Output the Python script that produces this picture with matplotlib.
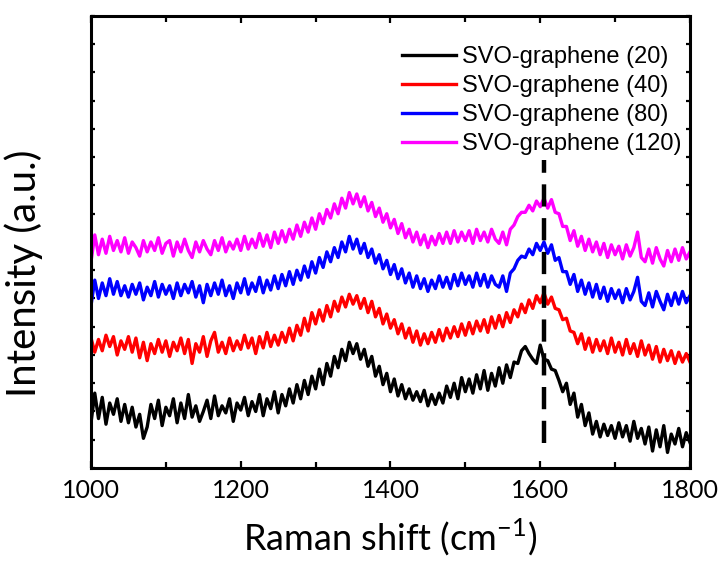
import matplotlib
matplotlib.use("Agg")
import matplotlib.pyplot as plt
import numpy as np
from matplotlib.ticker import MultipleLocator

# Raman spectra, offsets (arb. units, y axis 0..16)
shift_start, shift_end = 1000, 1800

svo_20 = [
    1.60, 2.65, 1.75, 2.50, 1.55, 2.30, 1.90, 2.45, 1.65, 2.25, 1.60, 2.15, 1.45, 1.90, 1.05, 1.45,
    2.25, 1.75, 2.40, 1.50, 2.15, 1.85, 2.45, 1.60, 2.30, 1.75, 2.60, 1.80, 2.20, 1.65, 2.00, 2.40,
    1.75, 2.55, 1.85, 2.20, 1.95, 2.45, 1.65, 2.30, 2.05, 2.50, 1.85, 2.35, 2.00, 2.60, 1.85, 2.45,
    2.10, 2.70, 1.95, 2.60, 2.20, 2.80, 2.30, 2.95, 2.45, 3.10, 2.60, 3.25, 2.80, 3.50, 2.95, 3.70,
    3.25, 3.95, 3.55, 4.20, 3.80, 4.45, 4.05, 4.40, 3.85, 4.20, 3.60, 3.95, 3.25, 3.60, 2.95, 3.35,
    2.70, 3.15, 2.55, 2.95, 2.45, 2.80, 2.40, 2.70, 2.35, 2.75, 2.20, 2.60, 2.25, 2.65, 2.30, 2.90,
    2.50, 3.00, 2.45, 3.20, 2.70, 3.15, 2.65, 3.30, 2.80, 3.45, 2.75, 3.35, 2.90, 3.55, 3.00, 3.65,
    3.20, 3.75, 3.70, 4.15, 4.30, 4.05, 3.85, 3.70, 4.35, 3.85, 3.80, 3.50, 3.45, 3.10, 2.70, 3.00,
    2.25, 2.65, 1.80, 2.25, 1.50, 1.95, 1.20, 1.65, 1.10, 1.55, 1.15, 1.50, 1.05, 1.60, 1.10, 1.50,
    0.95, 1.65, 1.05, 1.40, 0.85, 1.45, 0.60, 1.35, 0.75, 1.50, 0.55, 1.20, 0.85, 1.40, 0.75, 1.25,
    0.90,
]
svo_40 = [
    4.60, 4.10, 4.55, 4.15, 4.70, 4.30, 4.65, 4.00, 4.50, 4.20, 4.65, 4.10, 4.60, 3.90, 4.45, 3.80,
    4.40, 4.05, 4.55, 4.10, 4.50, 3.95, 4.45, 4.15, 4.60, 4.05, 4.55, 3.70, 4.40, 4.10, 4.65, 3.95,
    4.50, 4.80, 4.10, 4.45, 4.05, 4.60, 4.15, 4.50, 4.20, 4.70, 4.25, 4.60, 4.05, 4.65, 4.25, 4.80,
    4.30, 4.70, 4.35, 4.80, 4.45, 4.95, 4.50, 5.05, 4.70, 5.30, 4.85, 5.50, 5.10, 5.60, 5.20, 5.75,
    5.35, 5.90, 5.55, 6.05, 5.70, 6.15, 5.80, 6.10, 5.65, 6.00, 5.50, 5.90, 5.35, 5.65, 5.10, 5.45,
    4.95, 5.25, 4.75, 5.10, 4.60, 4.95, 4.45, 4.85, 4.35, 4.75, 4.40, 4.80, 4.45, 4.90, 4.50, 4.95,
    4.60, 5.00, 4.65, 5.10, 4.70, 5.15, 4.75, 5.20, 4.85, 5.25, 4.80, 5.35, 4.95, 5.40, 5.00, 5.50,
    5.15, 5.60, 5.35, 5.80, 5.50, 5.95, 5.65, 6.10, 5.85, 6.20, 5.80, 6.05, 5.65, 5.60, 5.25, 5.30,
    4.85, 4.80, 4.40, 4.75, 4.20, 4.60, 4.10, 4.55, 4.15, 4.50, 4.05, 4.60, 4.10, 4.45, 4.00, 4.55,
    4.05, 4.40, 3.95, 4.50, 4.00, 4.35, 3.85, 4.30, 3.75, 4.20, 3.80, 4.15, 3.70, 4.10, 3.75, 4.05,
    3.75,
]
svo_80 = [
    5.75, 6.65, 6.00, 6.55, 6.10, 6.70, 6.15, 6.60, 6.10, 6.45, 6.05, 6.50, 6.15, 6.55, 5.95, 6.40,
    6.10, 6.60, 6.05, 6.50, 6.15, 6.45, 6.00, 6.55, 6.10, 6.50, 6.20, 6.60, 6.05, 6.45, 5.85, 6.50,
    6.10, 6.55, 6.15, 6.65, 6.10, 6.45, 6.00, 6.55, 6.20, 6.70, 6.15, 6.55, 6.25, 6.75, 6.20, 6.65,
    6.30, 6.80, 6.35, 6.85, 6.45, 6.95, 6.50, 7.00, 6.65, 7.15, 6.75, 7.30, 6.90, 7.45, 7.10, 7.65,
    7.30, 7.80, 7.45, 8.00, 7.65, 8.20, 7.75, 8.10, 7.60, 7.95, 7.45, 7.75, 7.25, 7.55, 7.05, 7.35,
    6.85, 7.20, 6.70, 7.05, 6.55, 6.90, 6.40, 6.80, 6.35, 6.70, 6.25, 6.65, 6.35, 6.80, 6.40, 6.75,
    6.35, 6.85, 6.45, 6.90, 6.50, 6.80, 6.40, 6.90, 6.45, 6.85, 6.40, 6.80, 6.50, 6.40, 6.80, 6.25,
    6.90, 7.05, 7.35, 7.50, 7.45, 7.75, 7.55, 7.95, 7.70, 8.00, 7.60, 7.90, 7.35, 7.45, 6.95, 6.95,
    6.50, 6.85, 6.25, 6.65, 6.15, 6.55, 6.05, 6.50, 6.00, 6.40, 5.90, 6.35, 6.00, 6.30, 5.85, 6.35,
    5.95, 6.25, 6.75, 5.90, 5.75, 6.20, 5.70, 6.25, 5.90, 5.60, 6.15, 5.75, 6.20, 5.80, 6.25, 5.85,
    6.10,
]
svo_120 = [
    7.30, 8.25, 7.55, 8.10, 7.60, 8.20, 7.70, 8.05, 7.65, 8.15, 7.60, 8.00, 7.80, 7.50, 8.05, 7.65,
    8.00, 7.70, 8.15, 7.60, 7.95, 8.05, 7.50, 8.00, 7.65, 8.10, 7.70, 7.45, 8.00, 7.65, 8.05, 7.75,
    7.55, 8.05, 7.70, 8.15, 7.65, 8.00, 7.75, 8.10, 7.70, 8.20, 7.75, 8.10, 7.80, 8.30, 7.85, 8.25,
    7.80, 8.35, 7.95, 8.40, 8.00, 8.45, 8.10, 8.60, 8.20, 8.70, 8.35, 8.85, 8.45, 9.00, 8.65, 9.15,
    8.85, 9.35, 9.00, 9.55, 9.20, 9.75, 9.35, 9.70, 9.25, 9.60, 9.10, 9.40, 8.90, 9.20, 8.70, 9.00,
    8.50, 8.80, 8.30, 8.65, 8.15, 8.45, 8.00, 8.35, 7.90, 8.25, 7.80, 8.20, 7.90, 8.30, 7.95, 8.35,
    7.95, 8.40, 8.00, 8.35, 8.05, 8.40, 7.95, 8.45, 8.05, 8.35, 8.00, 8.45, 8.10, 7.95, 8.35, 7.90,
    8.45, 8.60, 8.90, 9.05, 9.05, 9.30, 9.10, 9.45, 9.25, 9.55, 9.20, 9.50, 9.05, 9.00, 8.55, 8.55,
    8.05, 8.40, 7.85, 8.20, 7.70, 8.10, 7.65, 8.00, 7.55, 7.95, 7.45, 7.90, 7.55, 7.85, 7.40, 7.90,
    7.50, 7.80, 8.35, 7.45, 7.30, 7.75, 7.25, 7.80, 7.40, 7.15, 7.70, 7.30, 7.75, 7.35, 7.80, 7.40,
    7.65,
]

labels = ["SVO-graphene (20)", "SVO-graphene (40)", "SVO-graphene (80)", "SVO-graphene (120)"]
colors = ["black", "#ff0000", "#0000ff", "#ff00ff"]
g_band = 1605
g_band_span = (0.9, 10.9)

label_font = "Lato"
legend_font = "Liberation Sans"

fig = plt.figure(figsize=(7.2, 5.61), dpi=100)
ax = fig.add_axes([0.1264, 0.1658, 0.8319, 0.8057])

for series, color, label in zip([svo_20, svo_40, svo_80, svo_120], colors, labels):
    shift = np.linspace(shift_start, shift_end, len(series))
    ax.plot(shift, series, color=color, lw=2.4, label=label)

ax.plot([g_band, g_band], g_band_span, color="black", lw=3.2,
        linestyle=(0, (5, 2.6)), zorder=5)

ax.set_xlim(shift_start, shift_end)
ax.set_ylim(0, 16)
ax.xaxis.set_major_locator(MultipleLocator(200))
ax.xaxis.set_minor_locator(MultipleLocator(100))
ax.yaxis.set_major_locator(MultipleLocator(1))
ax.set_yticklabels([])

ax.tick_params(axis="both", which="both", direction="in", top=True, right=True, width=1.6)
ax.tick_params(axis="x", which="major", length=5, labelsize=18, pad=8)
ax.tick_params(axis="x", which="minor", length=4)
ax.tick_params(axis="y", which="major", length=3)
for lab in ax.get_xticklabels():
    lab.set_fontfamily(label_font)
for spine in ax.spines.values():
    spine.set_linewidth(2.2)

ax.set_xlabel("Raman shift (cm$^{\\mathregular{-1}}$)", fontsize=26, family=label_font, labelpad=11)
ax.set_ylabel("Intensity (a.u.)", fontsize=29, family=label_font)
ax.yaxis.set_label_coords(-0.08, 0.43)

ax.legend(loc="upper right", bbox_to_anchor=(1.01, 0.965), frameon=False,
          prop={"family": legend_font, "size": 17}, handlelength=2.3,
          handletextpad=0.25, labelspacing=0.3, borderaxespad=0.2)

fig.savefig("out.png", dpi=100)
plt.close(fig)
